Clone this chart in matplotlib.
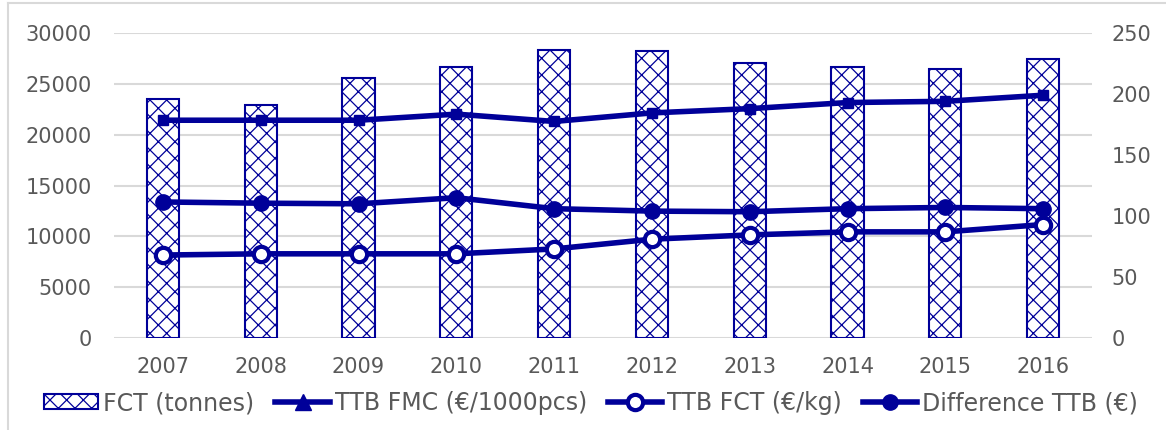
import numpy as np
import matplotlib.pyplot as plt
from matplotlib.lines import Line2D

years = ['2007', '2008', '2009', '2010', '2011', '2012', '2013', '2014', '2015', '2016']
fct_tonnes = [23500, 22950, 25600, 26700, 28350, 28200, 27050, 26700, 26500, 27450]
ttb_fmc = [178.5, 178.5, 178.5, 183.5, 177.5, 184.5, 188, 193, 194, 199]
ttb_fct = [68, 69, 69, 69, 73, 81, 84.5, 87, 87, 93]
diff_ttb = [111.5, 110.5, 110, 115, 106, 104, 103.5, 106, 107, 106]

navy = '#000099'
grey = '#595959'
plt.rcParams['hatch.color'] = '#1a1aa6'
plt.rcParams['hatch.linewidth'] = 0.9

fig = plt.figure(figsize=(11.66, 4.30), dpi=100)
ax = fig.add_axes([114 / 1166, 1 - 338 / 430, 978 / 1166, 305 / 430])
ax2 = ax.twinx()

x = np.arange(len(years))
ax.bar(x, fct_tonnes, width=0.33, facecolor='white', edgecolor=navy,
       hatch='xx', linewidth=1.5, zorder=2)
ax.set_ylim(0, 30000)
ax.set_xlim(-0.5, len(years) - 0.5)
ax.set_yticks(np.arange(0, 30001, 5000))
ax.yaxis.grid(True, color='#d9d9d9', linewidth=1.5, zorder=0)
ax.set_axisbelow(True)
ax.set_xticks(x)
ax.set_xticklabels(years)

ax2.plot(x, ttb_fmc, color=navy, lw=4, marker='s', ms=6.5, zorder=3)
ax2.plot(x, ttb_fct, color=navy, lw=4, marker='o', ms=11, mfc='white',
         mew=3, zorder=3)
ax2.plot(x, diff_ttb, color=navy, lw=4, marker='o', ms=11, zorder=3)
ax2.set_ylim(0, 250)
ax2.set_yticks(np.arange(0, 251, 50))

for a in (ax, ax2):
    for s in a.spines.values():
        s.set_visible(False)
    a.tick_params(length=0, labelsize=15, labelcolor=grey)
ax.tick_params(axis='y', pad=16)
ax.tick_params(axis='x', pad=14)
ax2.tick_params(axis='y', pad=14)

handles = [
    plt.Rectangle((0, 0), 1, 1, facecolor='white', edgecolor=navy, hatch='xx', lw=1.5),
    Line2D([], [], color=navy, lw=4, marker='^', ms=11),
    Line2D([], [], color=navy, lw=4, marker='o', ms=11, mfc='white', mew=3),
    Line2D([], [], color=navy, lw=4, marker='o', ms=11),
]
labels = ['FCT (tonnes)', 'TTB FMC (€/1000pcs)', 'TTB FCT (€/kg)', 'Difference TTB (€)']
leg = fig.legend(handles, labels, loc='center', bbox_to_anchor=(591 / 1166, 1 - 403 / 430),
                 ncol=4, frameon=False, fontsize=17, handlelength=2.3, handleheight=0.6,
                 handletextpad=0.2, columnspacing=0.9, labelcolor=grey)

fig.add_artist(Line2D([8 / 1166, 8 / 1166], [0, 1 - 3 / 430], color='#d9d9d9', lw=1.5))
fig.add_artist(Line2D([8 / 1166, 1], [1 - 3 / 430, 1 - 3 / 430], color='#d9d9d9', lw=1.5))

fig.savefig('out.png', dpi=100)
